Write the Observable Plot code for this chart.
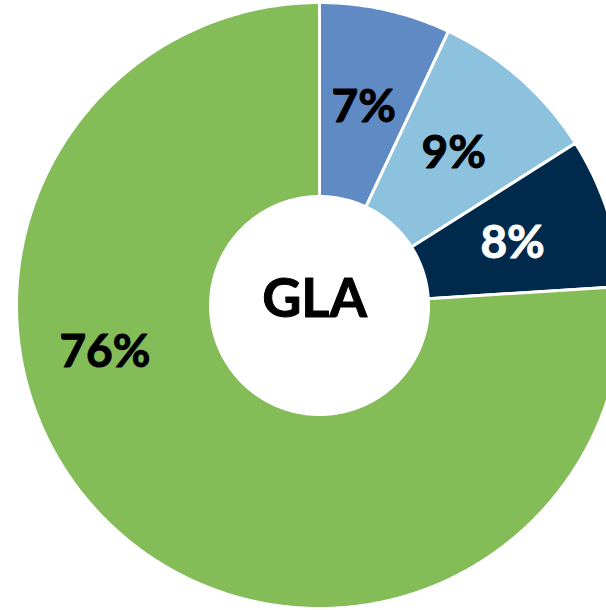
<!DOCTYPE html>
<html>
<head>
<meta charset="utf-8">
<script src="https://cdn.jsdelivr.net/npm/d3@7"></script>
<script src="https://cdn.jsdelivr.net/npm/@observablehq/plot@0.6"></script>
<style>
  html, body { margin: 0; padding: 0; background: #fff; }
  #chart svg { display: block; }
</style>
</head>
<body>
<div id="chart"></div>
<script>
const categories = ["A", "B", "C", "D"];
const values = [7, 9, 8, 76];
const labels = ["7%", "9%", "8%", "76%"];
const colors = ["#5F8AC3", "#8DC2DE", "#002A4C", "#84BC58"];
const labelColors = ["#000000", "#000000", "#ffffff", "#000000"];
const centerLabel = "GLA";

const W = 606, H = 610;
const cx = 319, cy = 305, R = 303;
const innerFrac = 109 / 303;
const labelFrac = 0.67;

const total = d3.sum(values);
let cum = 0;
const slices = values.map((v, i) => {
  const a0 = cum / total * 2 * Math.PI;
  cum += v;
  const a1 = cum / total * 2 * Math.PI;
  return {cat: categories[i], a0, a1, color: colors[i], label: labels[i], lc: labelColors[i], value: v};
});

// polygon vertices for each slice (angle measured clockwise from 12 o'clock)
const pts = [];
for (const s of slices) {
  const n = Math.max(8, Math.ceil((s.a1 - s.a0) / 0.01));
  const ring = [];
  for (let k = 0; k <= n; k++) {
    const a = s.a0 + (s.a1 - s.a0) * k / n;
    ring.push([Math.sin(a), Math.cos(a)]);
  }
  for (let k = n; k >= 0; k--) {
    const a = s.a0 + (s.a1 - s.a0) * k / n;
    ring.push([innerFrac * Math.sin(a), innerFrac * Math.cos(a)]);
  }
  ring.push(ring[0]);
  ring.forEach(([x, y], j) => pts.push({cat: s.cat, color: s.color, x, y, j}));
}

// label positions from slice mid-angles; the big slice label sits nearer the left
const labelPts = slices.map(s => {
  let a = (s.a0 + s.a1) / 2;
  let r = labelFrac;
  if (s.value === d3.max(values)) { a = a + 0.6; r = 0.725; }
  return {x: r * Math.sin(a), y: r * Math.cos(a), label: s.label, lc: s.lc};
});

const plot = Plot.plot({
  width: W,
  height: H,
  margin: 0,
  x: {domain: [(0 - cx) / R, (W - cx) / R], axis: null},
  y: {domain: [(cy - H) / R, cy / R], axis: null},
  style: {background: "#fff", fontFamily: "Lato, 'Open Sans', sans-serif"},
  marks: [
    Plot.line(pts, {x: "x", y: "y", z: "cat", fill: "color", stroke: "#ffffff", strokeWidth: 3, strokeLinejoin: "round", curve: "linear"}),
    Plot.text(labelPts, {x: "x", y: "y", text: "label", fill: "lc", stroke: "lc", strokeWidth: 1, fontSize: 46, fontWeight: "bold", textAnchor: "middle", lineAnchor: "middle"}),
    Plot.text([{x: 0, y: 0, t: centerLabel}], {x: "x", y: "y", text: "t", dx: -5, dy: -6, fill: "#000", stroke: "#000", strokeWidth: 1, fontSize: 54, fontWeight: "bold", textAnchor: "middle", lineAnchor: "middle"})
  ]
});
document.getElementById("chart").appendChild(plot);
</script>
</body>
</html>
